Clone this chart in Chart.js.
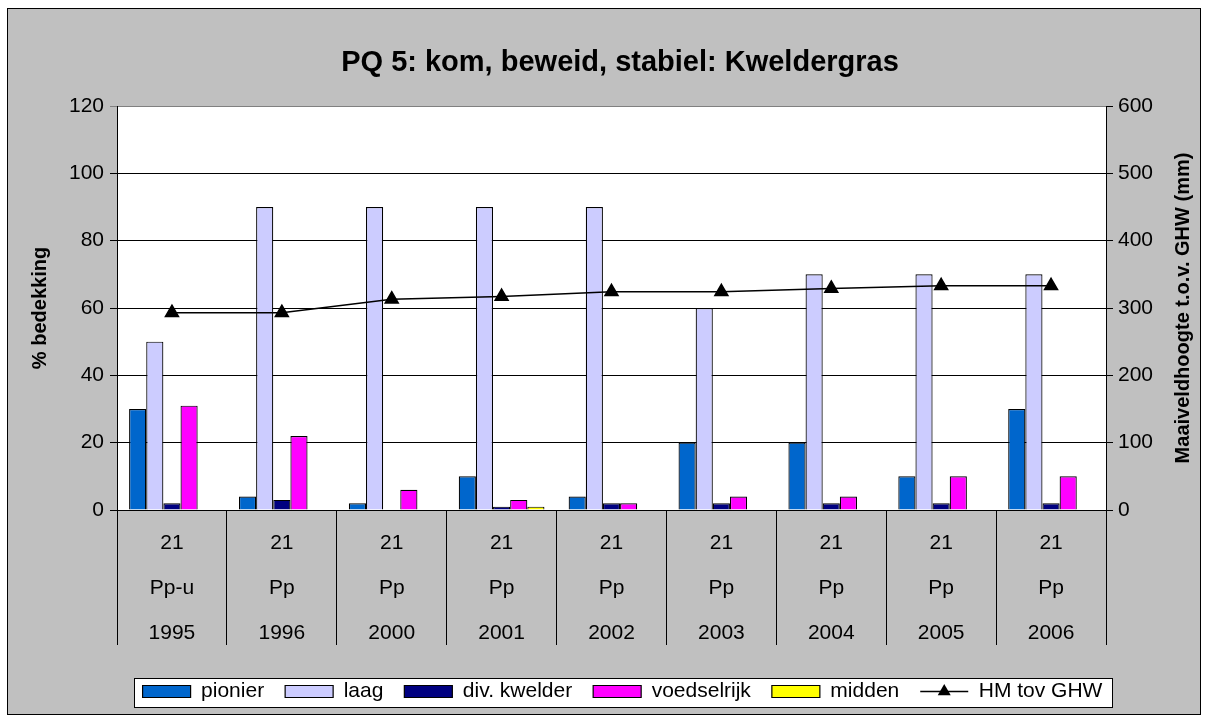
<!DOCTYPE html>
<html>
<head>
<meta charset="utf-8">
<script src="https://cdn.jsdelivr.net/npm/chart.js@4/dist/chart.umd.min.js"></script>
<style>
  body { margin: 0; background: #fff; }
  canvas { display: block; }
</style>
</head>
<body>
<canvas id="pqChart" width="1210" height="722"></canvas>
<script>
// categories (three label rows)
const plotNrs = ["21", "21", "21", "21", "21", "21", "21", "21", "21"];
const vegCodes = ["Pp-u", "Pp", "Pp", "Pp", "Pp", "Pp", "Pp", "Pp", "Pp"];
const years = ["1995", "1996", "2000", "2001", "2002", "2003", "2004", "2005", "2006"];

// % bedekking per zone
const pionier = [30, 4, 2, 10, 4, 20, 20, 10, 30];
const laag = [50, 90, 90, 90, 90, 60, 70, 70, 70];
const divKwelder = [2, 3, null, 1, 2, 2, 2, 2, 2];
const voedselrijk = [31, 22, 6, 3, 2, 4, 4, 10, 10];
const midden = [null, null, null, 1, null, null, null, null, null];

// maaiveldhoogte t.o.v. GHW (mm)
const hmTovGhw = [293, 293, 313, 317, 324, 324, 329, 333, 333];

// axis ranges
const pctMax = 120, pctStep = 20;
const mmMax = 600, mmStep = 100;

const FONT = '"Liberation Sans", Arial, sans-serif';
Chart.defaults.font.family = FONT;
Chart.defaults.font.size = 21;
Chart.defaults.color = "#000";

const labels = years.map((y, i) => [plotNrs[i], vegCodes[i], y]);

function barSet(label, data, color) {
  return {
    type: "bar",
    label: label,
    data: data,
    backgroundColor: color,
    borderColor: "#000",
    borderWidth: 1.2,
    yAxisID: "y",
    order: 1,
  };
}

// frame, plot background, legend box and titles
const excelLook = {
  id: "excelLook",
  beforeDraw(chart) {
    const { ctx, chartArea: a } = chart;
    ctx.save();
    ctx.fillStyle = "#fff";
    ctx.fillRect(0, 0, chart.width, chart.height);
    ctx.fillStyle = "#c0c0c0";
    ctx.fillRect(8, 9, 1192, 705);
    ctx.strokeStyle = "#000";
    ctx.lineWidth = 1;
    ctx.strokeRect(7.5, 8.5, 1193, 706);

    ctx.fillStyle = "#fff";
    ctx.fillRect(a.left, a.top, a.right - a.left, a.bottom - a.top);

    const hb = chart.legend.legendHitBoxes;
    if (hb && hb.length) {
      const first = hb[0];
      const last = hb[hb.length - 1];
      const x0 = Math.round(first.left - 9) + 0.5;
      const x1 = Math.round(last.left + last.width + 10) + 0.5;
      const y0 = Math.round(first.top + first.height / 2 - 14) + 0.5;
      ctx.fillStyle = "#fff";
      ctx.fillRect(x0, y0, x1 - x0, 29);
      ctx.strokeStyle = "#000";
      ctx.strokeRect(x0, y0, x1 - x0, 29);
    }
    ctx.restore();
  },
  afterDraw(chart) {
    const { ctx, chartArea: a } = chart;
    ctx.save();
    ctx.fillStyle = "#000";
    ctx.textAlign = "center";
    ctx.textBaseline = "middle";
    ctx.font = "bold 29px " + FONT;
    ctx.fillText("PQ 5: kom, beweid, stabiel: Kweldergras", 620, 63);

    const midY = (a.top + a.bottom) / 2;
    ctx.font = "bold 20px " + FONT;
    ctx.translate(40, midY);
    ctx.rotate(-Math.PI / 2);
    ctx.fillText("% bedekking", 0, 0);
    ctx.setTransform(1, 0, 0, 1, 0, 0);
    ctx.translate(1183, midY);
    ctx.rotate(-Math.PI / 2);
    ctx.fillText("Maaiveldhoogte t.o.v. GHW (mm)", 0, 0);
    ctx.setTransform(1, 0, 0, 1, 0, 0);

    // line symbol for the HM legend entry
    const hb = chart.legend.legendHitBoxes;
    const item = hb[hb.length - 1];
    const cy = item.top + item.height / 2;
    ctx.strokeStyle = "#000";
    ctx.lineWidth = 1.5;
    ctx.beginPath();
    ctx.moveTo(item.left, cy);
    ctx.lineTo(item.left + 48, cy);
    ctx.stroke();
    const cx = item.left + 24, r = 7.5;
    ctx.beginPath();
    ctx.moveTo(cx, cy - r);
    ctx.lineTo(cx + r * 0.866, cy + r / 2);
    ctx.lineTo(cx - r * 0.866, cy + r / 2);
    ctx.closePath();
    ctx.fill();
    ctx.restore();
  },
};

new Chart(document.getElementById("pqChart"), {
  data: {
    labels: labels,
    datasets: [
      barSet("pionier", pionier, "#0066cc"),
      barSet("laag", laag, "#ccccff"),
      barSet("div. kwelder", divKwelder, "#000080"),
      barSet("voedselrijk", voedselrijk, "#ff00ff"),
      barSet("midden", midden, "#ffff00"),
      {
        type: "line",
        label: "HM tov GHW",
        data: hmTovGhw,
        yAxisID: "y1",
        borderColor: "#000",
        backgroundColor: "#000",
        borderWidth: 1.5,
        tension: 0,
        pointStyle: "triangle",
        pointRadius: 7.5,
        pointBackgroundColor: "#000",
        pointBorderColor: "#000",
        order: 0,
      },
    ],
  },
  options: {
    responsive: false,
    animation: false,
    layout: { padding: { top: 106, left: 35, right: 0, bottom: 10 } },
    datasets: {
      bar: { categoryPercentage: 0.78, barPercentage: 1 },
    },
    plugins: {
      title: { display: false },
      tooltip: { enabled: false },
      legend: {
        position: "bottom",
        labels: {
          boxWidth: 48,
          boxHeight: 12,
          padding: 21,
          color: "#000",
          font: { size: 21 },
          sort: (a, b) => a.datasetIndex - b.datasetIndex,
          generateLabels(chart) {
            const items = Chart.defaults.plugins.legend.labels.generateLabels(chart);
            items.forEach((it) => {
              if (it.datasetIndex === 5) {
                it.fillStyle = "rgba(0,0,0,0)";
                it.strokeStyle = "rgba(0,0,0,0)";
                it.lineWidth = 0;
              }
            });
            return items;
          },
        },
      },
    },
    scales: {
      x: {
        offset: true,
        grid: {
          offset: true,
          drawOnChartArea: false,
          tickLength: 135,
          color: "#000",
        },
        border: { color: "#000" },
        ticks: {
          padding: -124,
          maxRotation: 0,
          autoSkip: false,
          font: { size: 21, lineHeight: "45px" },
        },
        afterFit(scale) {
          scale.height = 150;
        },
      },
      y: {
        position: "left",
        min: 0,
        max: pctMax,
        ticks: { stepSize: pctStep, padding: 6 },
        grid: {
          tickLength: 7,
          color: (c) => (c.tick && c.tick.value === pctMax ? "#808080" : "#000"),
        },
        border: { color: "#000" },
        afterFit(scale) {
          scale.width = 82;
        },
      },
      y1: {
        position: "right",
        min: 0,
        max: mmMax,
        ticks: { stepSize: mmStep, padding: 5 },
        grid: { drawOnChartArea: false, tickLength: 7, color: "#000" },
        border: { color: "#000" },
        afterFit(scale) {
          scale.width = 104;
        },
      },
    },
  },
  plugins: [excelLook],
});
</script>
</body>
</html>
